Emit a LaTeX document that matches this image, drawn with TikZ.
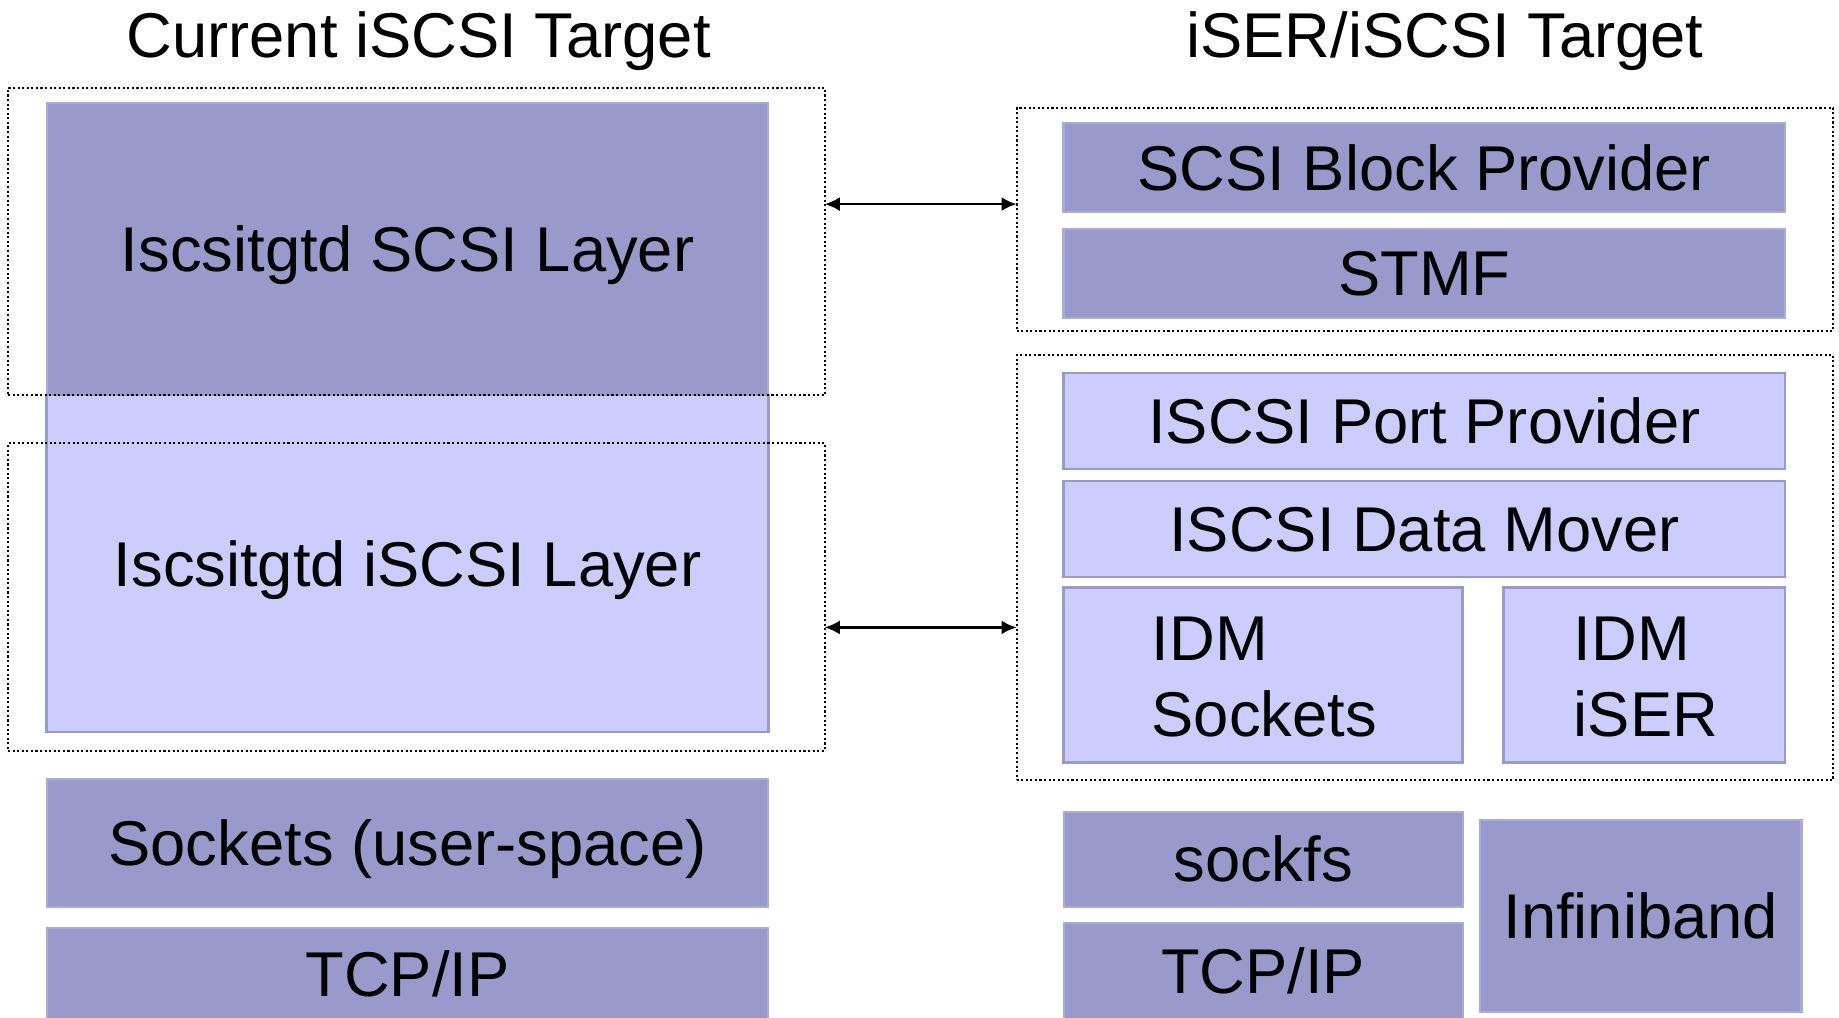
\documentclass[tikz,border=0pt]{standalone}
\usepackage{fontspec}
\setmainfont{Liberation Sans}
\usetikzlibrary{arrows.meta}
\definecolor{darkfill}{HTML}{9999CC}
\definecolor{lightfill}{HTML}{CCCCFF}
\definecolor{darkedge}{HTML}{ABABD6}
\definecolor{lightedge}{HTML}{9999CC}
\begin{document}
\begin{tikzpicture}[x=0.01cm,y=-0.01cm,
  every node/.style={font=\fontsize{18}{21.6}\selectfont, inner sep=0pt, outer sep=0pt},
  capline/.style={text height=12.9pt, text depth=0pt},
  darkbox/.style={capline, draw=darkedge, line width=0.6pt, fill=darkfill},
  lightbox/.style={capline, draw=lightedge, line width=0.7pt, fill=lightfill},
  dotbox/.style={draw=black, line width=0.6pt, dash pattern=on 0.6pt off 0.7pt},
  biarrow/.style={line width=0.7pt, {Latex[length=1.5mm,width=1.4mm]}-{Latex[length=1.5mm,width=1.4mm]}},
  title/.style={capline, font=\fontsize{18}{21.6}\selectfont}]
\useasboundingbox (0,0) rectangle (1839,1017);
% titles
\node[title] (t1) at (418.7,35) {Current iSCSI Target};
\node[title] (t2) at (1444.9,35) {iSER/iSCSI Target};
% left stack
\node[darkbox, minimum width=7.213cm, minimum height=2.92cm] (scsi) at (407.55,249.2) {Iscsitgtd SCSI Layer};
\node[lightbox, minimum width=7.213cm, minimum height=3.366cm] (iscsi) at (407.55,563.5) {Iscsitgtd iSCSI Layer};
\node[darkbox, minimum width=7.213cm, minimum height=1.279cm] (sock) at (407.55,842.65) {Sockets (user-space)};
\node[darkbox, minimum width=7.213cm, minimum height=0.913cm] (tcpl) at (407.55,973.35) {TCP/IP};
% left dotted groups
\node[dotbox, minimum width=8.163cm, minimum height=3.072cm] (ld1) at (416.35,241.6) {};
\node[dotbox, minimum width=8.163cm, minimum height=3.073cm] (ld2) at (416.35,596.95) {};
% right dotted groups
\node[dotbox, minimum width=8.163cm, minimum height=2.228cm] (rd1) at (1424.95,219.3) {};
\node[dotbox, minimum width=8.163cm, minimum height=4.245cm] (rd2) at (1424.95,567.65) {};
% right stack
\node[darkbox, minimum width=7.213cm, minimum height=0.892cm] (sbp) at (1424.35,167.7) {SCSI Block Provider};
\node[darkbox, minimum width=7.213cm, minimum height=0.891cm] (stmf) at (1424.35,273.25) {STMF};
\node[lightbox, minimum width=7.213cm, minimum height=0.961cm] (port) at (1424.35,421.05) {ISCSI Port Provider};
\node[lightbox, minimum width=7.213cm, minimum height=0.962cm] (mover) at (1424.35,528.9) {ISCSI Data Mover};
\node[lightbox, minimum width=3.988cm, minimum height=1.747cm] (idms) at (1263.1,674.95) {};
\node[lightbox, minimum width=2.815cm, minimum height=1.747cm] (idmi) at (1644.25,674.95) {};
\node[anchor=west, align=left] (idmsT) at (1151.7,677) {IDM\\Sockets};
\node[anchor=west, align=left] (idmiT) at (1573.9,677) {IDM\\iSER};
\node[darkbox, minimum width=3.988cm, minimum height=0.95cm] (sockfs) at (1263.1,859.1) {sockfs};
\node[darkbox, minimum width=3.988cm, minimum height=0.96cm] (tcpr) at (1263.1,971) {TCP/IP};
\node[darkbox, minimum width=3.213cm, minimum height=1.923cm] (ib) at (1640.75,915.95) {Infiniband};
% arrows
\coordinate (a1) at (920,204.1);
\coordinate (a2) at (920,627.4);
\draw[biarrow] (ld1.east |- a1) -- (rd1.west |- a1);
\draw[biarrow] (ld2.east |- a2) -- (rd2.west |- a2);
\end{tikzpicture}
\end{document}
